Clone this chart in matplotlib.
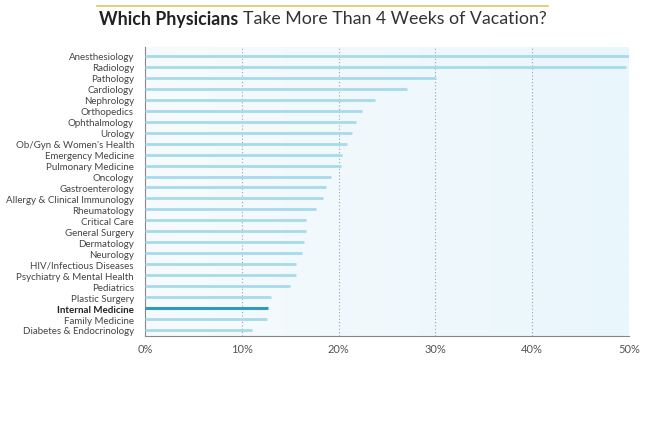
import numpy as np
import matplotlib.pyplot as plt
from matplotlib.colors import LinearSegmentedColormap

specialties = [
    "Anesthesiology", "Radiology", "Pathology", "Cardiology", "Nephrology",
    "Orthopedics", "Ophthalmology", "Urology", "Ob/Gyn & Women's Health",
    "Emergency Medicine", "Pulmonary Medicine", "Oncology", "Gastroenterology",
    "Allergy & Clinical Immunology", "Rheumatology", "Critical Care",
    "General Surgery", "Dermatology", "Neurology", "HIV/Infectious Diseases",
    "Psychiatry & Mental Health", "Pediatrics", "Plastic Surgery",
    "Internal Medicine", "Family Medicine", "Diabetes & Endocrinology",
]
pct = [50.0, 49.7, 30.1, 27.1, 23.8, 22.4, 21.8, 21.4, 20.9, 20.4, 20.2, 19.2,
       18.7, 18.4, 17.7, 16.6, 16.6, 16.4, 16.2, 15.6, 15.6, 15.0, 13.0,
       12.7, 12.6, 11.1]
highlight = "Internal Medicine"
xticks = [0, 10, 20, 30, 40, 50]

plt.rcParams['font.family'] = ['Lato', 'DejaVu Sans']

fig = plt.figure(figsize=(6.45, 4.39), dpi=100)
ax = fig.add_axes([145 / 645, 1 - 337 / 439, 484 / 645, 289 / 439])

n = len(specialties)
ylim = (n - 0.45, -0.82)

# background gradient, whiter on the left
cmap = LinearSegmentedColormap.from_list('bg', ['#f7fbfd', '#e9f6fc'])
grad = np.linspace(0, 1, 256).reshape(1, -1)
ax.imshow(grad, cmap=cmap, aspect='auto', extent=[0, 50, ylim[0], ylim[1]], zorder=0)

y = np.arange(n)
for i, (name, v) in enumerate(zip(specialties, pct)):
    if name == highlight:
        ax.plot([0, v], [i, i], color='#2b9cc0', lw=2.2, solid_capstyle='butt', zorder=3)
    else:
        ax.plot([0, v], [i, i], color='#a6dbec', lw=2.0, solid_capstyle='butt', zorder=3)

for t in xticks[1:-1]:
    ax.axvline(t, color='#9aa6ad', lw=0.8, ls=(0, (1, 2)), zorder=1)

ax.set_xlim(0, 50)
ax.set_ylim(*ylim)
ax.set_yticks(y)
ax.set_yticklabels(specialties, fontsize=7.0, color='#444444')
for lbl in ax.get_yticklabels():
    if lbl.get_text() == highlight:
        lbl.set_fontweight('bold')
        lbl.set_color('#222222')
ax.set_xticks(xticks)
ax.set_xticklabels([f"{t}%" for t in xticks], fontsize=8, color='#555555')
ax.tick_params(axis='y', length=0, pad=8)
ax.tick_params(axis='x', length=0, pad=5)

for s in ['top', 'right']:
    ax.spines[s].set_visible(False)
ax.spines['left'].set_color('#888888')
ax.spines['bottom'].set_color('#888888')

# title with gold rule above
fig.add_artist(plt.Line2D([97 / 645, 548 / 645], [1 - 7 / 439] * 2,
                          color='#e3c266', lw=1.2))
t1 = fig.text(99 / 645, 1 - 19 / 439, "Which Physicians", fontsize=12.8,
              fontweight='bold', color='#222222', va='center', ha='left')
fig.canvas.draw()
bb = t1.get_window_extent()
fig.text(bb.x1 / fig.bbox.width + 0.007, 1 - 19 / 439,
         "Take More Than 4 Weeks of Vacation?", fontsize=12.8,
         color='#333333', va='center', ha='left')

fig.savefig("out.png", dpi=100)
